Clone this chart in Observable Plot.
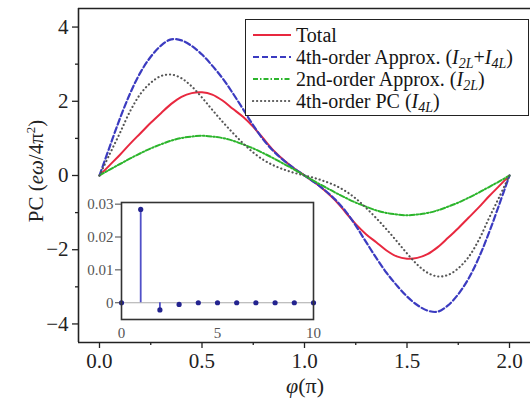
<!DOCTYPE html>
<html>
<head>
<meta charset="utf-8">
<script src="https://cdn.jsdelivr.net/npm/d3@7"></script>
<script src="https://cdn.jsdelivr.net/npm/@observablehq/plot@0.6"></script>
<style>
  html, body { margin: 0; padding: 0; background: #fff; overflow: hidden; }
  #wrap { position: relative; width: 530px; height: 400px; overflow: hidden; font-family: "Liberation Serif", "Times New Roman", serif; color: #222; }
  #wrap svg { background: transparent; }
  .abs { position: absolute; }
  #legend { left: 245px; top: 19px; width: 284px; height: 97px; border: 1.6px solid #222; background: #fff; box-sizing: border-box; padding-top: 4px; overflow: visible; }
  .row { height: 22px; display: flex; align-items: center; white-space: nowrap; font-size: 20px; line-height: 22px; color: #151515; }
  .row svg { margin-left: 6px; margin-right: 4px; flex: none; }
  .row sub { font-size: 14px; vertical-align: -4px; line-height: 0; }
  #ytitle { left: -64px; top: 159px; width: 200px; height: 24px; line-height: 24px; text-align: center; font-size: 21px; transform: rotate(-90deg); white-space: nowrap; }
  #ytitle sup { font-size: 13px; vertical-align: 8px; line-height: 0; }
  #xtitle { left: 255px; top: 374px; width: 100px; height: 24px; line-height: 24px; text-align: center; font-size: 22px; }
</style>
</head>
<body>
<div id="wrap"></div>
<script>
// ---- data ----
const phi = [0,0.05,0.1,0.15,0.2,0.25,0.3,0.35,0.4,0.45,0.5,0.55,0.6,0.65,0.7,0.75,0.8,0.85,0.9,0.95,1,
             1.05,1.1,1.15,1.2,1.25,1.3,1.35,1.4,1.45,1.5,1.55,1.6,1.65,1.7,1.75,1.8,1.85,1.9,1.95,2];
const total = [0,0.28,0.56,0.86,1.14,1.42,1.68,1.93,2.12,2.22,2.24,2.18,2.02,1.80,1.58,1.31,0.99,0.67,0.41,0.19,0,
               -0.19,-0.41,-0.67,-0.99,-1.31,-1.58,-1.80,-2.02,-2.18,-2.24,-2.22,-2.12,-1.93,-1.68,-1.42,-1.14,-0.86,-0.56,-0.28,0];
const approx4 = [0,0.78,1.54,2.22,2.78,3.20,3.50,3.67,3.64,3.49,3.26,2.96,2.62,2.22,1.79,1.35,0.96,0.65,0.40,0.19,0,
                 -0.19,-0.40,-0.65,-0.96,-1.35,-1.79,-2.22,-2.62,-2.96,-3.26,-3.49,-3.64,-3.67,-3.50,-3.20,-2.78,-2.22,-1.54,-0.78,0];
const approx2 = [0,0.16,0.31,0.46,0.60,0.73,0.84,0.94,1.01,1.05,1.07,1.05,1.01,0.94,0.84,0.73,0.60,0.46,0.31,0.16,0,
                 -0.16,-0.31,-0.46,-0.60,-0.73,-0.84,-0.94,-1.01,-1.05,-1.07,-1.05,-1.01,-0.94,-0.84,-0.73,-0.60,-0.46,-0.31,-0.16,0];
const pc4 = [0,0.58,1.15,1.74,2.20,2.50,2.68,2.72,2.62,2.40,2.10,1.77,1.45,1.15,0.87,0.62,0.42,0.27,0.16,0.07,0,
             -0.07,-0.16,-0.27,-0.42,-0.62,-0.87,-1.15,-1.45,-1.77,-2.10,-2.40,-2.62,-2.72,-2.68,-2.50,-2.20,-1.74,-1.15,-0.58,0];

const xMajor = [0, 0.5, 1, 1.5, 2];
const xMinor = [0.25, 0.75, 1.25, 1.75];
const yMajor = [-4, -2, 0, 2, 4];
const yMinor = [-3, -1, 1, 3];

// inset
const insetN = [0,1,2,3,4,5,6,7,8,9,10];
const insetV = [0,0.0284,-0.0022,-0.0005,0,0,0,0,0,0,0];
const insetXTicks = [0,5,10];
const insetYTicks = [0,0.01,0.02,0.03];

// ---- build ----
const rows = phi.map((p, i) => ({phi: p, total: total[i], approx4: approx4[i], approx2: approx2[i], pc4: pc4[i]}));
const insetRows = insetN.map((n, i) => ({n, v: insetV[i]}));

const xDom = [-0.1024, 2.1024];
const yDom = [-4.5, 4.5];
const minus = d => (d < 0 ? "\u2212" + (-d) : String(d));
const serif = "'Liberation Serif','Times New Roman',serif";

const RED = "#e8283f", BLUE = "#3b3bc0", GREEN = "#2cb52c", GRAY = "#555";
const styles = {
  total:   {stroke: RED, strokeWidth: 2},
  approx4: {stroke: BLUE, strokeWidth: 2.2, strokeDasharray: "6,3"},
  approx2: {stroke: GREEN, strokeWidth: 2, strokeDasharray: "5,2,1.5,2"},
  pc4:     {stroke: GRAY, strokeWidth: 2.1, strokeDasharray: "0.2,3.8", strokeLinecap: "round"}
};

const main = Plot.plot({
  width: 530, height: 400,
  marginLeft: 78, marginRight: 0, marginTop: 8, marginBottom: 58,
  style: {fontFamily: serif, fontSize: "21px", color: "#222", background: "transparent", overflow: "visible"},
  x: {domain: xDom, label: null},
  y: {domain: yDom, label: null},
  marks: [
    Plot.axisX(xMajor, {tickSize: 6, tickPadding: 5, tickFormat: d => d.toFixed(1), label: null, strokeWidth: 1.3}),
    Plot.axisX(xMinor, {tickSize: 3, tickFormat: () => "", label: null, strokeWidth: 1.3}),
    Plot.axisY(yMajor, {tickSize: 6, tickPadding: 4, tickFormat: minus, label: null, strokeWidth: 1.3}),
    Plot.axisY(yMinor, {tickSize: 3, tickFormat: () => "", label: null, strokeWidth: 1.3}),
    Plot.line(rows, {x: "phi", y: "total", curve: "catmull-rom", ...styles.total}),
    Plot.line(rows, {x: "phi", y: "approx4", curve: "catmull-rom", ...styles.approx4}),
    Plot.line(rows, {x: "phi", y: "approx2", curve: "catmull-rom", ...styles.approx2}),
    Plot.line(rows, {x: "phi", y: "pc4", curve: "catmull-rom", ...styles.pc4}),
    Plot.ruleX([xDom[0]], {stroke: "#222", strokeWidth: 1.6}),
    Plot.ruleY(yDom, {stroke: "#222", strokeWidth: 1.6})
  ]
});

const inset = Plot.plot({
  width: 250, height: 150,
  marginLeft: 46, marginRight: 12, marginTop: 7, marginBottom: 26,
  style: {fontFamily: serif, fontSize: "15px", color: "#555", background: "transparent", overflow: "visible"},
  x: {domain: [0, 10], label: null},
  y: {domain: [-0.0051, 0.0305], label: null},
  marks: [
    Plot.ruleY([0], {stroke: "#aaa", strokeWidth: 1.2}),
    Plot.ruleX(insetRows, {x: "n", y1: 0, y2: "v", stroke: "#5050c8", strokeWidth: 1.8}),
    Plot.dot(insetRows, {x: "n", y: "v", r: 2.6, fill: "#23238f", stroke: "none"}),
    Plot.frame({stroke: "#333", strokeWidth: 1.6}),
    Plot.axisY(insetYTicks, {tickSize: 6, tickPadding: 2, tickFormat: d => (d === 0 ? "0" : d.toFixed(2)), label: null, stroke: "#444"}),
    Plot.axisX(insetXTicks, {tickSize: 0, tickPadding: 8, label: null})
  ]
});

const wrap = document.getElementById("wrap");
main.classList.add("abs"); main.style.left = "0px"; main.style.top = "0px";
wrap.appendChild(main);
const insetBox = document.createElement("div");
insetBox.className = "abs"; insetBox.style.left = "75px"; insetBox.style.top = "195px";
insetBox.appendChild(inset);
wrap.appendChild(insetBox);

// legend
const legendItems = [
  {key: "total",   html: "Total"},
  {key: "approx4", html: "4th-order Approx. (<i>I<sub>2L</sub></i>+<i>I<sub>4L</sub></i>)"},
  {key: "approx2", html: "2nd-order Approx. (<i>I<sub>2L</sub></i>)"},
  {key: "pc4",     html: "4th-order PC (<i>I<sub>4L</sub></i>)"}
];
const legend = document.createElement("div");
legend.id = "legend"; legend.className = "abs";
for (const it of legendItems) {
  const s = styles[it.key];
  const row = document.createElement("div");
  row.className = "row";
  row.innerHTML = `<svg width="40" height="6"><line x1="1" x2="39" y1="3" y2="3" stroke="${s.stroke}" stroke-width="${s.strokeWidth}" stroke-dasharray="${s.strokeDasharray || "none"}" stroke-linecap="${s.strokeLinecap || "butt"}"/></svg><span>${it.html}</span>`;
  legend.appendChild(row);
}
wrap.appendChild(legend);

const yt = document.createElement("div");
yt.id = "ytitle"; yt.className = "abs";
yt.innerHTML = "PC (<i>e\u03c9</i>/4\u03c0<sup>2</sup>)";
wrap.appendChild(yt);
const xt = document.createElement("div");
xt.id = "xtitle"; xt.className = "abs";
xt.innerHTML = "<i>\u03c6</i>(\u03c0)";
wrap.appendChild(xt);
</script>
</body>
</html>
